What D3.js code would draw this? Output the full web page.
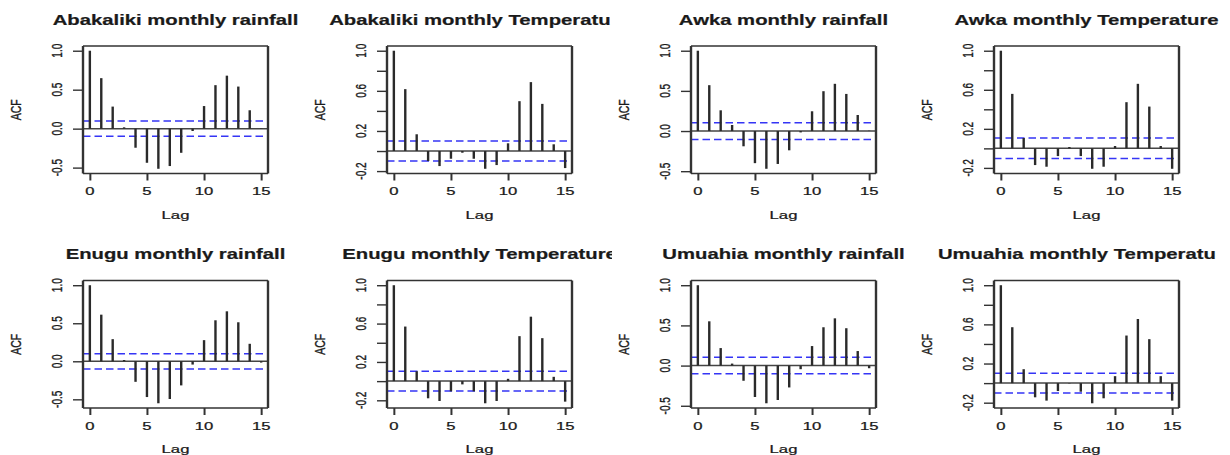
<!DOCTYPE html>
<html>
<head>
<meta charset="utf-8">
<script src="https://cdn.jsdelivr.net/npm/d3@7"></script>
<style>
  body { margin: 0; background: #fff; }
  svg { display: block; font-family: "Liberation Sans", Arial, sans-serif; }
</style>
</head>
<body>
<svg id="chart" width="1230" height="455"></svg>
<script>
// lags shown on every correlogram
const lags = [0, 1, 2, 3, 4, 5, 6, 7, 8, 9, 10, 11, 12, 13, 14, 15];

const titles = [
  "Abakaliki monthly rainfall", "Abakaliki monthly Temperature",
  "Awka monthly rainfall", "Awka monthly Temperature",
  "Enugu monthly rainfall", "Enugu monthly Temperature",
  "Umuahia monthly rainfall", "Umuahia monthly Temperature"
];

// ACF values
const abakalikiRain = [1.0, 0.648, 0.283, 0.017, -0.245, -0.438, -0.515, -0.48, -0.31, -0.03, 0.29, 0.558, 0.68, 0.54, 0.236, 0.005];
const abakalikiTemp = [1.0, 0.617, 0.167, -0.1, -0.15, -0.077, -0.017, -0.077, -0.177, -0.14, 0.077, 0.497, 0.687, 0.47, 0.067, -0.17];
const awkaRain = [1.0, 0.571, 0.258, 0.075, -0.19, -0.4, -0.47, -0.41, -0.24, -0.017, 0.246, 0.496, 0.588, 0.462, 0.2, 0.004];
const awkaTemp = [1.0, 0.558, 0.106, -0.171, -0.188, -0.079, 0.014, -0.079, -0.209, -0.188, 0.024, 0.473, 0.661, 0.428, 0.024, -0.209];
const enuguRain = [1.0, 0.613, 0.291, 0.017, -0.27, -0.47, -0.552, -0.496, -0.317, -0.043, 0.278, 0.539, 0.657, 0.513, 0.23, -0.017];
const enuguTemp = [1.0, 0.569, 0.103, -0.179, -0.207, -0.107, -0.034, -0.107, -0.231, -0.207, 0.024, 0.469, 0.672, 0.448, 0.045, -0.214];
const umuahiaRain = [1.0, 0.551, 0.218, 0.025, -0.189, -0.391, -0.469, -0.428, -0.272, -0.045, 0.243, 0.477, 0.588, 0.465, 0.181, -0.033];
const umuahiaTemp = [1.0, 0.571, 0.142, -0.145, -0.179, -0.081, -0.004, -0.088, -0.206, -0.155, 0.071, 0.486, 0.655, 0.449, 0.071, -0.179];

// confidence limits (dashed blue lines)
const confLimits = [0.097, 0.1, 0.104, 0.105, 0.1, 0.103, 0.103, 0.1];

const xTicks = [0, 5, 10, 15];
const rainTicks = [-0.5, 0, 0.5, 1.0];
const rainTickLabels = ["-0.5", "0.0", "0.5", "1.0"];
const tempTicks = [-0.2, 0, 0.2, 0.4, 0.6, 0.8, 1.0];
const tempTickLabels = ["-0.2", "", "0.2", "", "0.6", "", "1.0"];

const series = [abakalikiRain, abakalikiTemp, awkaRain, awkaTemp, enuguRain, enuguTemp, umuahiaRain, umuahiaTemp];

// layout of the 4x2 grid (each panel was a horizontally stretched R plot)
const SX = 1.45;
const colLeft = [83, 387, 691, 994];
const rowTop = [46, 280.5];
const boxW = 185, boxH = 127.5;
const titleY = [25, 259];
const clipLeft = [0, 305, 613, 918];
const clipRight = [305, 611, 918, 1230, 305, 612, 918, 1216];
const rowClip = [[0, 228], [228, 455]];

const svg = d3.select("#chart");

function stretchedText(g, x, y, str, size, weight, rotate) {
  return g.append("text")
    .attr("transform", `translate(${x},${y}) scale(${SX},1)` + (rotate ? " rotate(-90)" : ""))
    .attr("text-anchor", "middle")
    .attr("font-size", size)
    .attr("font-weight", weight || "normal")
    .attr("fill", "#1a1a1a")
    .attr("stroke", "#1a1a1a")
    .attr("stroke-width", weight === "bold" ? 0.2 : 0.25)
    .text(str);
}

series.forEach((vals, i) => {
  const col = i % 4, row = Math.floor(i / 4);
  const isTemp = i % 2 === 1;
  const ci = confLimits[i];
  const bx = colLeft[col], by = rowTop[row];

  svg.append("clipPath").attr("id", "clip" + i)
    .append("rect")
    .attr("x", clipLeft[col]).attr("y", rowClip[row][0])
    .attr("width", clipRight[i] - clipLeft[col])
    .attr("height", rowClip[row][1] - rowClip[row][0]);

  const g = svg.append("g").attr("clip-path", `url(#clip${i})`);

  // R style 4% extension of the ranges
  const x = d3.scaleLinear().domain([-0.6, 15.6]).range([bx, bx + boxW]);
  const lo = Math.min(d3.min(vals), -ci), hi = Math.max(d3.max(vals), ci);
  const pad = (hi - lo) * 0.04;
  const y = d3.scaleLinear().domain([lo - pad, hi + pad]).range([by + boxH, by]);

  // zero line
  g.append("line")
    .attr("x1", bx).attr("x2", bx + boxW)
    .attr("y1", y(0)).attr("y2", y(0))
    .attr("stroke", "#444").attr("stroke-width", 1.5);

  // confidence limits
  [ci, -ci].forEach(c => {
    g.append("line")
      .attr("x1", bx).attr("x2", bx + boxW)
      .attr("y1", y(c)).attr("y2", y(c))
      .attr("stroke", "#3535f5").attr("stroke-width", 1.5)
      .attr("stroke-dasharray", "7.5,4");
  });

  // spikes
  g.append("g").selectAll("line")
    .data(lags)
    .join("line")
    .attr("x1", d => x(d)).attr("x2", d => x(d))
    .attr("y1", y(0)).attr("y2", d => y(vals[d]))
    .attr("stroke", "#2a2a2a").attr("stroke-width", 2.4);

  // box: vertical sides look thicker because of the stretch
  g.append("line").attr("x1", bx).attr("x2", bx + boxW).attr("y1", by).attr("y2", by)
    .attr("stroke", "#333").attr("stroke-width", 1.6);
  g.append("line").attr("x1", bx).attr("x2", bx + boxW).attr("y1", by + boxH).attr("y2", by + boxH)
    .attr("stroke", "#333").attr("stroke-width", 1.6);
  g.append("line").attr("x1", bx).attr("x2", bx).attr("y1", by).attr("y2", by + boxH)
    .attr("stroke", "#333").attr("stroke-width", 2.4);
  g.append("line").attr("x1", bx + boxW).attr("x2", bx + boxW).attr("y1", by).attr("y2", by + boxH)
    .attr("stroke", "#333").attr("stroke-width", 2.4);

  // y axis
  const yTicks = isTemp ? tempTicks : rainTicks;
  const yLabels = isTemp ? tempTickLabels : rainTickLabels;
  g.append("g")
    .attr("transform", `translate(${bx},0)`)
    .call(d3.axisLeft(y).tickValues(yTicks).tickSize(10).tickFormat(""))
    .call(a => a.select(".domain").remove())
    .call(a => a.selectAll(".tick line").attr("stroke", "#333").attr("stroke-width", 1.4));
  yTicks.forEach((t, k) => {
    if (yLabels[k]) stretchedText(g, bx - 21, y(t), yLabels[k], 10, "normal", true);
  });

  // x axis
  g.append("g")
    .attr("transform", `translate(0,${by + boxH})`)
    .call(d3.axisBottom(x).tickValues(xTicks).tickSize(7).tickFormat(""))
    .call(a => a.select(".domain").remove())
    .call(a => a.selectAll(".tick line").attr("stroke", "#333").attr("stroke-width", 2));
  xTicks.forEach(t => stretchedText(g, x(t), by + boxH + 21.5, String(t), 11.5));

  // axis titles and main title
  stretchedText(g, bx + boxW / 2, by + boxH + 45, "Lag", 11.5);
  stretchedText(g, bx - 62.5, by + boxH / 2, "ACF", 10.5, "normal", true);
  stretchedText(g, bx + boxW / 2, titleY[row], titles[i], 14, "bold");
});
</script>
</body>
</html>
